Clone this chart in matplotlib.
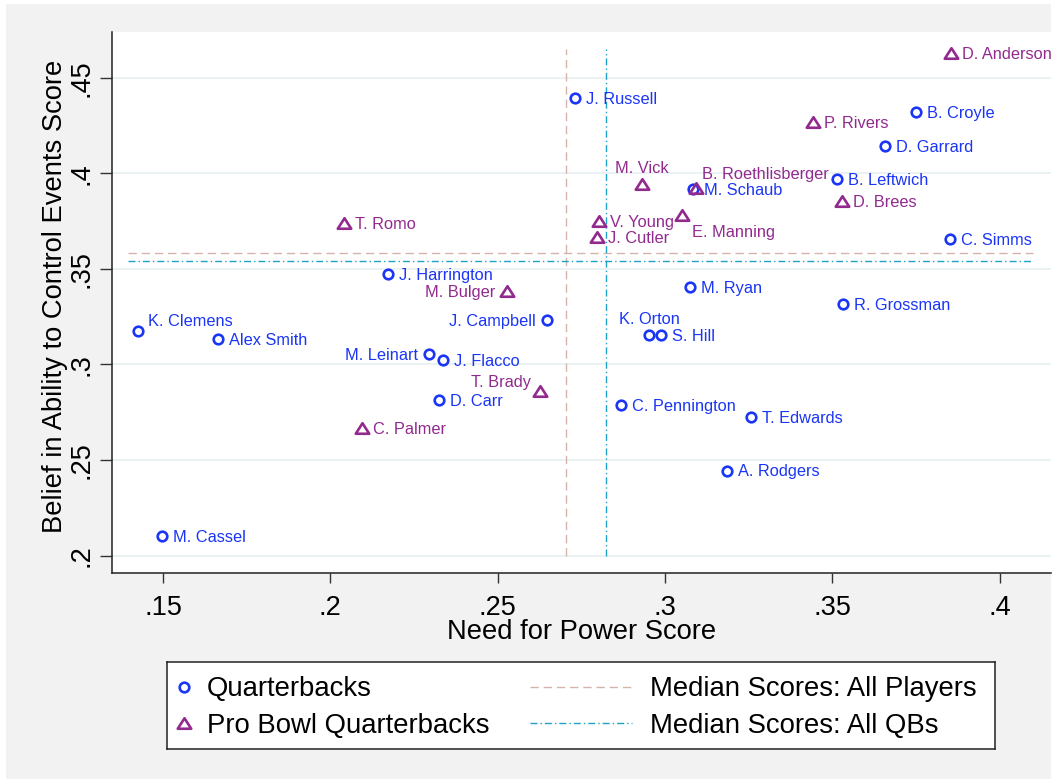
"""
Need for power vs. belief in ability to control events - quarterbacks
"""

import matplotlib
matplotlib.use("Agg")
import matplotlib.pyplot as plt
from matplotlib.patches import Rectangle
from matplotlib.path import Path

plt.rcParams["font.family"] = ["Liberation Sans", "DejaVu Sans"]

# 普通四分卫
qb_names = [
    "J. Russell", "B. Croyle", "D. Garrard", "B. Leftwich", "M. Schaub",
    "C. Simms", "M. Ryan", "R. Grossman", "K. Orton", "S. Hill",
    "C. Pennington", "T. Edwards", "A. Rodgers", "J. Harrington", "J. Campbell",
    "K. Clemens", "Alex Smith", "M. Leinart", "J. Flacco", "D. Carr", "M. Cassel",
]
qb_power = [
    0.2731, 0.3750, 0.3658, 0.3515, 0.3085,
    0.3852, 0.3075, 0.3531, 0.2953, 0.2987,
    0.2868, 0.3258, 0.3187, 0.2173, 0.2647,
    0.1426, 0.1665, 0.2294, 0.2338, 0.2324, 0.1498,
]
qb_control = [
    0.4395, 0.4322, 0.4144, 0.3970, 0.3916,
    0.3655, 0.3407, 0.3315, 0.3154, 0.3154,
    0.2788, 0.2727, 0.2445, 0.3472, 0.3233,
    0.3175, 0.3132, 0.3055, 0.3024, 0.2813, 0.2103,
]

# Pro Bowl 四分卫
pb_names = [
    "D. Anderson", "P. Rivers", "M. Vick", "B. Roethlisberger", "D. Brees",
    "E. Manning", "V. Young", "J. Cutler", "T. Romo", "M. Bulger",
    "T. Brady", "C. Palmer",
]
pb_power = [
    0.3854, 0.3443, 0.2931, 0.3093, 0.3530,
    0.3051, 0.2802, 0.2796, 0.2042, 0.2527,
    0.2627, 0.2094,
]
pb_control = [
    0.4631, 0.4268, 0.3944, 0.3921, 0.3853,
    0.3782, 0.3752, 0.3668, 0.3738, 0.3386,
    0.2861, 0.2666,
]

# 中位数 (power, control)
median_all = [0.2704, 0.3582]
median_qb = [0.2825, 0.3541]
hline_span = [0.1395, 0.41]
vline_span = [0.2, 0.465]

x_ticks = [0.15, 0.2, 0.25, 0.3, 0.35, 0.4]
x_ticklabels = [".15", ".2", ".25", ".3", ".35", ".4"]
y_ticks = [0.2, 0.25, 0.3, 0.35, 0.4, 0.45]
y_ticklabels = [".2", ".25", ".3", ".35", ".4", ".45"]

# 标签位置 (Stata 钟点方向), 默认 3 点钟
label_clock = {
    "K. Clemens": 2, "B. Roethlisberger": 1, "M. Vick": 12, "K. Orton": 12,
    "E. Manning": 5, "J. Campbell": 9, "M. Leinart": 9, "M. Bulger": 9,
    "T. Brady": 10,
}
# 钟点 -> (dx, dy 像素, 向下为正, 对齐)
clock_offset = {
    3: (11, 0, "left"),
    9: (-11, 0, "right"),
    12: (0, -16.5, "center"),
    1: (6, -15, "left"),
    2: (10, -10.5, "left"),
    10: (-9.5, -9.5, "right"),
    5: (10, 16.5, "left"),
}

BLUE = "#1a35f5"
PURPLE = "#922a8e"
C_ALL = "#d4b3aa"
C_QB = "#1ea2c8"
GRID = "#e9f1f2"
BG = "#f2f2f2"

tri = Path([(-1, -0.78), (1, -0.78), (0, 0.78), (-1, -0.78)],
           [Path.MOVETO, Path.LINETO, Path.LINETO, Path.CLOSEPOLY])

W, H = 1064, 779
fig = plt.figure(figsize=(W / 100, H / 100), dpi=100, facecolor="white")
fig.patches.append(Rectangle((6 / W, 0), (1051 - 6) / W, (H - 4) / H,
                             transform=fig.transFigure, facecolor=BG,
                             edgecolor="none", zorder=-10))

ax = fig.add_axes([112.3 / W, 1 - 573 / H, (1050.7 - 112.3) / W, (573 - 32) / H])
ax.set_facecolor("white")
ax.set_xlim(0.13485, 0.4153)
ax.set_ylim(0.19095, 0.4739)

for s in ["top", "right"]:
    ax.spines[s].set_visible(False)
for s in ["left", "bottom"]:
    ax.spines[s].set_linewidth(1.1)
    ax.spines[s].set_color("#222222")

ax.set_xticks(x_ticks)
ax.set_xticklabels(x_ticklabels)
ax.set_yticks(y_ticks)
ax.set_yticklabels(y_ticklabels, rotation=90, va="center")
ax.tick_params(axis="x", length=7.5, width=1, color="#333333", pad=8, labelsize=19.5)
ax.tick_params(axis="y", length=8.5, width=1, color="#333333", pad=4, labelsize=19.5)
ax.yaxis.grid(True, color=GRID, linewidth=1.3)
ax.set_axisbelow(True)

ax.set_xlabel("Need for Power Score", fontsize=19.7)
ax.xaxis.set_label_coords(0.5, -0.085)
ax.set_ylabel("Belief in Ability to Control Events Score", fontsize=19.7)
ax.yaxis.set_label_coords(-0.047, 0.512)

# 中位数线
ax.plot(hline_span, [median_all[1]] * 2, color=C_ALL, lw=1, dashes=(6, 3.5), zorder=1)
ax.plot([median_all[0]] * 2, vline_span, color=C_ALL, lw=1, dashes=(6, 3.5), zorder=1)
ax.plot(hline_span, [median_qb[1]] * 2, color=C_QB, lw=1, dashes=(5, 2.2, 1, 2.2), zorder=1)
ax.plot([median_qb[0]] * 2, vline_span, color=C_QB, lw=1, dashes=(5, 2.2, 1, 2.2), zorder=1)

ax.plot(qb_power, qb_control, linestyle="none", marker="o", markersize=6.9,
        markerfacecolor="none", markeredgecolor=BLUE, markeredgewidth=1.9, zorder=3)
ax.plot(pb_power, pb_control, linestyle="none", marker=tri, markersize=9.7,
        markerfacecolor="none", markeredgecolor=PURPLE, markeredgewidth=1.9, zorder=3)

LABEL_SIZE = 11.8
cap = 0.716 * LABEL_SIZE / 72 * 100  # 大写字母高度, 像素


def put_labels(names, xs, ys, color):
    for n, x, y in zip(names, xs, ys):
        dx, dy, ha = clock_offset[label_clock.get(n, 3)]
        ax.annotate(n, (x, y), xytext=(dx, -(dy + cap / 2)),
                    textcoords="offset pixels", ha=ha, va="baseline",
                    fontsize=LABEL_SIZE, color=color, zorder=4)


put_labels(qb_names, qb_power, qb_control, BLUE)
put_labels(pb_names, pb_power, pb_control, PURPLE)

# 图例 (像素坐标)
lx0, lx1, ly0, ly1 = 166.7, 995, 661.5, 749.3
lax = fig.add_axes([lx0 / W, 1 - ly1 / H, (lx1 - lx0) / W, (ly1 - ly0) / H])
lax.set_xlim(lx0, lx1)
lax.set_ylim(ly1, ly0)
lax.set_xticks([])
lax.set_yticks([])
lax.set_facecolor("white")
for s in lax.spines.values():
    s.set_linewidth(1.1)
    s.set_color("#222222")

LEG_SIZE = 19.8
lcap = 0.716 * LEG_SIZE / 72 * 100
rows = [686.5, 723]
lax.plot([184.3], [rows[0]], marker="o", markersize=6.9, markerfacecolor="none",
         markeredgecolor=BLUE, markeredgewidth=1.9, linestyle="none")
lax.plot([184.3], [rows[1]], marker=tri, markersize=9.7, markerfacecolor="none",
         markeredgecolor=PURPLE, markeredgewidth=1.9, linestyle="none")
lax.plot([530, 632], [rows[0]] * 2, color=C_ALL, lw=1, dashes=(6, 3.5))
lax.plot([530, 632], [rows[1]] * 2, color=C_QB, lw=1, dashes=(5, 2.2, 1, 2.2))
for txt, x, r in [("Quarterbacks", 207, rows[0]), ("Pro Bowl Quarterbacks", 207, rows[1]),
                  ("Median Scores: All Players", 650, rows[0]),
                  ("Median Scores: All QBs", 650, rows[1])]:
    lax.text(x, r + lcap / 2, txt, fontsize=LEG_SIZE, va="baseline", ha="left")

fig.savefig("out.png", dpi=100, facecolor=fig.get_facecolor())
